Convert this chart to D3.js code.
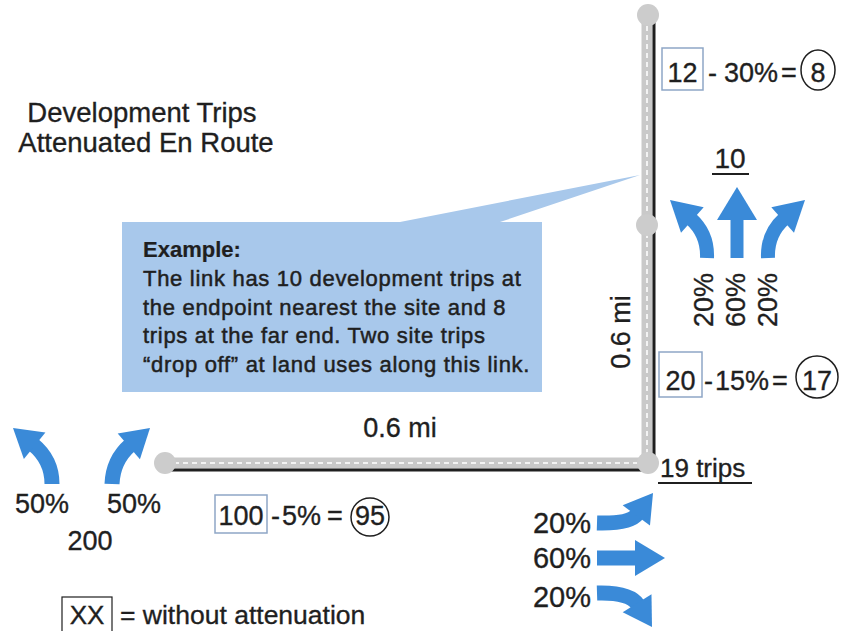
<!DOCTYPE html>
<html><head><meta charset="utf-8">
<script src="https://cdn.jsdelivr.net/npm/d3@7"></script>
<style>html,body{margin:0;padding:0;background:#fff;} svg{display:block;font-family:"Liberation Sans",Arial,sans-serif;}</style>
</head><body><svg id="c" width="842" height="631"></svg>
<script>
// ---------- data ----------
const titleLines = ["Development Trips", "Attenuated En Route"];
const exampleHead = "Example:";
const exampleLines = [
  "The link has 10 development trips at",
  "the endpoint nearest the site and 8",
  "trips at the far end. Two site trips",
  "\u201Cdrop off\u201D at land uses along this link."
];
const linkRaw = [12, 20, 100];      // trips without attenuation
const linkPct = [30, 15, 5];        // attenuation percent
const linkNet = [8, 17, 95];        // attenuated trips
const linkLengthMi = [0.6, 0.6];    // horizontal, vertical
const northSplit = [20, 60, 20];
const eastSplit = [20, 60, 20];
const westSplit = [50, 50];
const tripTotals = [10, 19, 200];   // north approach, corner, origin
const legendKey = "XX";
const legendText = "= without attenuation";

// ---------- drawing ----------
const svg = d3.select("#c");
const INK = "#1f1f1f", BLUE = "#3a8ad8", CALLOUT = "#a8c8eb", ROAD = "#c9c9c9", NODE = "#cccccc";

function txt(x, y, s, size, opts = {}) {
  const t = svg.append("text").attr("x", x).attr("y", y).text(s)
    .attr("font-size", size).attr("fill", INK)
    .attr("text-anchor", opts.anchor || "start")
    .attr("stroke", INK).attr("stroke-width", opts.stroke != null ? opts.stroke : 0.35);
  if (opts.weight) t.attr("font-weight", opts.weight);
  if (opts.rotate) t.attr("transform", `rotate(-90 ${x} ${y})`);
  if (opts.ls) t.attr("letter-spacing", opts.ls);
  return t;
}

// callout
svg.append("path")
  .attr("d", "M122,222 L400,222 L640,175 L500,222 L542,222 L542,392 L122,392 Z")
  .attr("fill", CALLOUT);

// roads via scales (miles -> px)
const xMi = d3.scaleLinear().domain([0, linkLengthMi[0]]).range([165, 648]);
const yMi = d3.scaleLinear().domain([0, linkLengthMi[1]]).range([463, 225]);
const line = d3.line();
const hRoad = [[xMi(0), yMi(0)], [xMi(linkLengthMi[0]), yMi(0)]];
const vRoad = [[647, yMi(0)], [647, 15]];
[hRoad, vRoad].forEach(pts => {
  svg.append("path").attr("d", line(pts)).attr("stroke", ROAD).attr("stroke-width", 11).attr("fill", "none");
  svg.append("path").attr("d", line(pts)).attr("stroke", "#f3f3f3").attr("stroke-width", 2)
    .attr("stroke-dasharray", "5,4").attr("fill", "none");
});
svg.append("path").attr("d", line([[xMi(0), 470], [xMi(linkLengthMi[0]), 470]]))
  .attr("stroke", INK).attr("stroke-width", 3);
svg.append("path").attr("d", line([[654, 22], [654, yMi(0)]]))
  .attr("stroke", INK).attr("stroke-width", 3);
const nodes = [[xMi(0), yMi(0)], [xMi(linkLengthMi[0]), yMi(0)], [647, yMi(linkLengthMi[1])], [648, 15]];
svg.selectAll("circle.node").data(nodes).enter().append("circle")
  .attr("cx", d => d[0]).attr("cy", d => d[1]).attr("r", 11).attr("fill", NODE);

// arrows
function arrow(p0, c, tip, sw, hl, hw) {
  const dx = tip[0] - c[0], dy = tip[1] - c[1], len = Math.hypot(dx, dy);
  const ux = dx / len, uy = dy / len;
  const base = [tip[0] - ux * hl, tip[1] - uy * hl];
  const inner = [base[0] + ux * 2, base[1] + uy * 2];
  const p = d3.path(); p.moveTo(p0[0], p0[1]); p.quadraticCurveTo(c[0], c[1], inner[0], inner[1]);
  svg.append("path").attr("d", p.toString()).attr("stroke", BLUE).attr("stroke-width", sw).attr("fill", "none");
  const px = -uy * hw / 2, py = ux * hw / 2;
  svg.append("path").attr("d", line([tip, [base[0] + px, base[1] + py], [base[0] - px, base[1] - py]]) + "Z")
    .attr("fill", BLUE);
}
// north approach (left, through, right)
arrow([707, 258], [708, 234], [670, 200], 14, 30, 34);
arrow([737, 258], [737, 230], [737, 187], 13, 33, 40);
arrow([768, 258], [767, 234], [805, 200], 14, 30, 34);
// east departures
arrow([597, 523], [630, 524], [653, 493], 15, 28, 34);
arrow([597, 558], [620, 558], [665, 558], 15, 30, 36);
arrow([597, 593], [630, 592], [652, 627], 15, 28, 34);
// west origin
arrow([52, 484], [52, 460], [13, 428], 15, 28, 34);
arrow([112, 484], [113, 460], [150, 428], 15, 28, 34);

// title
txt(142, 122, titleLines[0], 27.5, { anchor: "middle" });
txt(146, 152, titleLines[1], 27.5, { anchor: "middle" });

// example box text
txt(143, 257, exampleHead, 22, { weight: "bold", stroke: 0.2 });
exampleLines.forEach((s, i) => txt(143, 286 + i * 28.5, s, 22, { ls: 0.7, stroke: 0.5 }));

// link length labels
txt(400, 437, `${linkLengthMi[0]} mi`, 27, { anchor: "middle" });
txt(630, 332, `${linkLengthMi[1]} mi`, 27, { anchor: "middle", rotate: true });

// attenuation equations
const rowLayout = [
  { box: [662, 48, 41, 42], base: 82, minus: 708, pct: 724, eq: 781, circ: [818, 70, 17, 20] },
  { box: [659, 352, 43, 45], base: 390, minus: 704, pct: 715, eq: 772, circ: [817, 377, 21, 21] },
  { box: [215, 495, 52, 38], base: 525, minus: 271, pct: 282, eq: 327, circ: [370, 517, 19, 19] }
];
rowLayout.forEach((r, i) => {
  svg.append("rect").attr("x", r.box[0]).attr("y", r.box[1]).attr("width", r.box[2]).attr("height", r.box[3])
    .attr("fill", "none").attr("stroke", "#8ea6c6").attr("stroke-width", 1.5);
  txt(r.box[0] + r.box[2] / 2, r.base, linkRaw[i], 27, { anchor: "middle" });
  txt(r.minus, r.base, "-", 27);
  txt(r.pct, r.base, `${linkPct[i]}%`, 27);
  txt(r.eq, r.base, "=", 27);
  svg.append("ellipse").attr("cx", r.circ[0]).attr("cy", r.circ[1]).attr("rx", r.circ[2]).attr("ry", r.circ[3])
    .attr("fill", "none").attr("stroke", INK).attr("stroke-width", 1.5);
  txt(r.circ[0], r.base, linkNet[i], 27, { anchor: "middle" });
});

// north approach volume and splits
txt(730, 168, tripTotals[0], 28, { anchor: "middle" });
svg.append("path").attr("d", line([[712, 174], [749, 174]])).attr("stroke", INK).attr("stroke-width", 2);
[713, 745, 777].forEach((x, i) => txt(x, 327, `${northSplit[i]}%`, 27, { rotate: true }));

// corner volume
txt(660, 477, `${tripTotals[1]} trips`, 26);
svg.append("path").attr("d", line([[658, 483], [752, 483]])).attr("stroke", INK).attr("stroke-width", 2);

// east splits
[533, 568, 607].forEach((y, i) => txt(591, y, `${eastSplit[i]}%`, 29, { anchor: "end" }));

// west splits + origin
txt(42, 513, `${westSplit[0]}%`, 27, { anchor: "middle" });
txt(134, 513, `${westSplit[1]}%`, 27, { anchor: "middle" });
txt(90, 550, tripTotals[2], 27, { anchor: "middle" });

// legend
svg.append("rect").attr("x", 62).attr("y", 597).attr("width", 50).attr("height", 36)
  .attr("fill", "none").attr("stroke", INK).attr("stroke-width", 1.2);
txt(87, 624, legendKey, 26, { anchor: "middle" });
txt(120, 624, legendText, 26.5);
</script></body></html>
